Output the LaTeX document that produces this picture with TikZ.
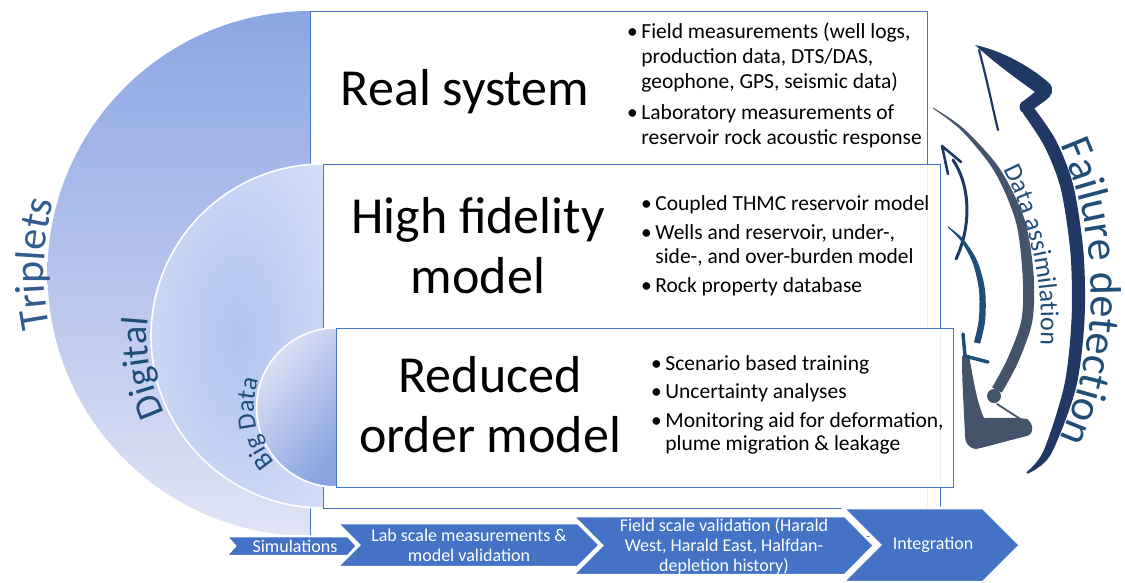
\documentclass[tikz,border=0pt]{standalone}
\usepackage{fontspec}
\setmainfont{Carlito}
\usetikzlibrary{decorations.text,calc}

\definecolor{frameblue}{HTML}{4472C4}
\definecolor{chevblue}{HTML}{4472C4}
\definecolor{tripblue}{HTML}{2F5D90}
\definecolor{labelblue}{HTML}{1F4E79}
\definecolor{navy}{HTML}{203864}
\definecolor{slate}{HTML}{44546A}
\definecolor{steel}{HTML}{1F4E79}
\definecolor{outertop}{RGB}{140,165,228}
\definecolor{outerbot}{RGB}{224,228,245}
\definecolor{digiin}{RGB}{176,196,240}
\definecolor{digiout}{RGB}{228,234,249}
\definecolor{bigl}{RGB}{224,228,246}
\definecolor{bigd}{RGB}{140,165,226}

\pgfdeclareradialshading{digishade}{\pgfpoint{0bp}{0bp}}{color(0bp)=(digiin); color(50bp)=(digiout)}

\begin{document}
\begin{tikzpicture}[x=1pt,y=-1pt,
  panel/.style={draw=frameblue, line width=1.3pt, fill=white, inner sep=0pt, anchor=north west},
  title/.style={align=center, font=\fontsize{52}{60}\selectfont, inner sep=0pt},
  bullets/.style={inner sep=0pt, anchor=west},
  chevron/.style={fill=chevblue, draw=white, line width=2.5pt, line join=miter},
  chevtext/.style={text=white, align=center, font=\fontsize{18}{20}\selectfont, inner sep=0pt},
  ring/.style={draw=white, line width=1.6pt},
  arclabel/.style={decorate, decoration={text along path, text align=center, text color=#1}},
]
\useasboundingbox (0,0) rectangle (1125,582);

% centres of the three half discs
\coordinate (cT) at (310,273.5);
\coordinate (cD) at (323,336);
\coordinate (cB) at (336,407.5);

% outer half disc and the real system panel
\shade[top color=outertop, bottom color=outerbot]
  ($(cT)+(0,-262.5)$) arc[start angle=270, end angle=90, radius=262.5] -- cycle;
\node[panel, minimum width=617pt, minimum height=525pt] (realbox) at (310,11) {};

% middle half disc and the high fidelity panel
\shade[shading=digishade]
  ($(cD)+(0,-172)$) arc[start angle=270, end angle=90, radius=172] -- cycle;
\draw[ring] ($(cD)+(0,-172)$) arc[start angle=270, end angle=90, radius=172];
\node[panel, fill opacity=0.9, minimum width=617pt, minimum height=344pt] (hfbox) at (323,164) {};

% inner half disc and the reduced order panel
\shade[left color=bigl, right color=bigd, shading angle=50]
  ($(cB)+(0,-79.5)$) arc[start angle=270, end angle=90, radius=79.5] -- cycle;
\draw[ring] ($(cB)+(0,-79.5)$) arc[start angle=270, end angle=90, radius=79.5];
\node[panel, fill opacity=0.9, minimum width=617pt, minimum height=159pt] (robox) at (336,328) {};

% arched labels of the half discs
\path[arclabel=tripblue, decoration={text={|\fontsize{42}{42}\selectfont|Triplets}}]
  ($(cT)+(150:266)$) arc[start angle=150, end angle=214, radius=266];
\path[arclabel=labelblue, decoration={text={|\fontsize{38}{38}\selectfont|Digital}}]
  ($(cD)+(140:176)$) arc[start angle=140, end angle=200, radius=176];
\path[arclabel=labelblue, decoration={text={|\fontsize{26}{26}\selectfont|Big Data}}]
  ($(cB)+(128:82)$) arc[start angle=128, end angle=210, radius=82];

% panel titles
\node[title] (realtitle) at (465,92) {Real system};
\node[title] (hftitle) at (478,246) {High fidelity\\model};
\node[title] (rotitle) at (490,405) {Reduced\\order model};

% panel bullet lists
\node[bullets, font=\fontsize{21.5}{25}\selectfont] (realpts) at (627,86) {\begin{tabular}{@{}l@{\hspace{3.5pt}}l@{}}
•&Field measurements (well logs,\\
&production data, DTS/DAS,\\
&geophone, GPS, seismic data)\\[6pt]
•&Laboratory measurements of\\
&reservoir rock acoustic response
\end{tabular}};
\node[bullets, font=\fontsize{21.5}{24}\selectfont] (hfpts) at (641,247) {\begin{tabular}{@{}l@{\hspace{3.5pt}}l@{}}
•&Coupled THMC reservoir model\\[5pt]
•&Wells and reservoir, under-,\\
&side-, and over-burden model\\[5pt]
•&Rock property database
\end{tabular}};
\node[bullets, font=\fontsize{21.5}{23.5}\selectfont] (ropts) at (651,406) {\begin{tabular}{@{}l@{\hspace{3.5pt}}l@{}}
•&Scenario based training\\[5pt]
•&Uncertainty analyses\\[5pt]
•&Monitoring aid for deformation,\\
&plume migration \& leakage
\end{tabular}};

% workflow chevrons, drawn right to left so each tip lies on top
\path[chevron] (843,508) -- (983,508) -- (1020,545) -- (983,582) -- (843,582) -- (880,545) -- cycle;
\path[chevron] (573,516) -- (845,516) -- (874,545.5) -- (845,575) -- (573,575) -- (602,545.5) -- cycle;
\path[chevron] (337,523) -- (578,523) -- (600,545) -- (578,567) -- (337,567) -- (359,545) -- cycle;
\path[chevron] (226,536) -- (348,536) -- (357,546) -- (348,556) -- (226,556) -- (235,546) -- cycle;
\node[chevtext] (integ) at (933,545) {Integration};
\node[chevtext] (field) at (724,546) {Field scale validation (Harald\\West, Harald East, Halfdan-\\depletion history)};
\node[chevtext] (lab) at (469,545) {Lab scale measurements \&\\model validation};
\node[chevtext] (sim) at (295,546) {Simulations};

% failure detection loop: large navy arrow
\fill[navy] plot[smooth] coordinates {(1027.7,473.7) (1050.6,454.8) (1075.8,388.4) (1084.5,320.3) (1083.5,252.5) (1073.3,185.5) (1055.8,140.1) (1033.0,106.7)}
  -- plot[smooth] coordinates {(1023.0,113.3) (1044.2,145.9) (1060.7,188.5) (1070.5,253.5) (1071.5,319.7) (1064.2,385.6) (1043.4,451.2) (1026.3,472.3)} -- cycle;
\fill[navy] (975,45) .. controls (1000,50) and (1030,66) .. (1049,83) .. controls (1055,89) and (1052,96) .. (1046,100) -- (1031,111) -- (1021,103) -- (1035,92) .. controls (1017,79) and (996,64) .. (975,45) -- cycle;
\fill[navy] (1026,107) circle[radius=6.5];
\draw[navy, line width=2.2pt, line cap=round] (979,50) .. controls (987,80) and (992,105) .. (998,130);

% data assimilation loop: grey arrow
\fill[slate] plot[smooth] coordinates {(933.3,107.7) (964.0,128.9) (999.5,168.4) (1024.3,218.7) (1033.5,272.6) (1032.4,320.9) (1018.1,362.2) (1001.8,392.6)}
  -- plot[smooth] coordinates {(992.2,387.4) (1007.9,357.8) (1021.6,319.1) (1022.5,273.4) (1015.7,221.3) (994.5,171.6) (962.0,131.1) (932.7,108.3)} -- cycle;
\fill[slate] (994,396) circle[radius=7];
\fill[slate] (962,356) -- (969,355) .. controls (974,385) and (978,405) .. (984,418) .. controls (1000,418) and (1015,417) .. (1027,419) .. controls (1034,424) and (1034,434) .. (1027,436) .. controls (1010,440) and (990,446) .. (976,449) .. controls (968,448) and (965,442) .. (965,436) .. controls (964,410) and (962,385) .. (962,356) -- cycle;
\draw[slate, line width=1.8pt, line cap=round] (997,404) -- (1025,422);

% inner navy arrow pointing up
\draw[navy, line width=3pt, line cap=round] (956,259) .. controls (972,225) and (970,185) .. (953,160);
\draw[navy, line width=2.6pt, line cap=round, line join=round] (948,174) -- (942,146) -- (961,162);

% inner blue arrow pointing down
\fill[steel] plot[smooth] coordinates {(948.3,226.6) (963.2,239.1) (977.3,261.1) (985.0,289.6) (985.2,320.3) (980.1,343.7)}
  -- plot[smooth] coordinates {(973.9,342.3) (978.8,319.7) (979.0,290.4) (972.7,262.9) (960.8,240.9) (947.7,227.4)} -- cycle;
\draw[steel, line width=3.5pt, line cap=round, line join=round] (963,334) -- (965,356) -- (988,362);

% arched labels of the loops
\path[arclabel=labelblue, decoration={text={|\fontsize{44}{44}\selectfont|Failure detection}}]
  ($(727,292)+(-34:364)$) arc[start angle=-34, end angle=34, radius=364];
\path[arclabel=labelblue, decoration={text={|\fontsize{26}{26}\selectfont|Data assimilation}}]
  ($(703,325)+(-33:338)$) arc[start angle=-33, end angle=9, radius=338];
\end{tikzpicture}
\end{document}
